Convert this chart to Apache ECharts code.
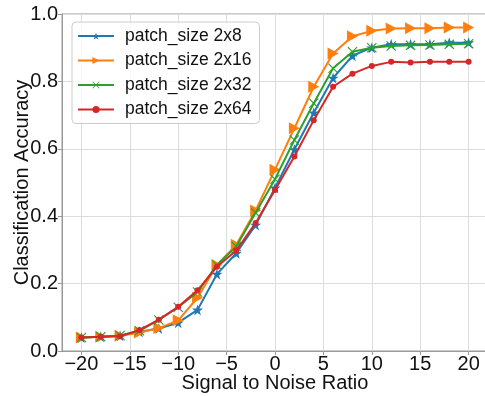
<!DOCTYPE html>
<html><head><meta charset="utf-8">
<script src="https://cdn.jsdelivr.net/npm/echarts@6/dist/echarts.min.js"></script>
<style>html,body{margin:0;padding:0;background:#fff}#c{width:485px;height:396px}</style>
</head><body><div id="c"></div>
<script>
const snr = [-20,-18,-16,-14,-12,-10,-8,-6,-4,-2,0,2,4,6,8,10,12,14,16,18,20];
const xTicks = [-20,-15,-10,-5,0,5,10,15,20];
const yTicks = [0,0.2,0.4,0.6,0.8,1.0];
const names = ['patch_size 2x8','patch_size 2x16','patch_size 2x32','patch_size 2x64'];
const acc2x8  = [0.040,0.042,0.045,0.057,0.067,0.084,0.122,0.228,0.290,0.374,0.484,0.598,0.707,0.810,0.876,0.900,0.910,0.910,0.910,0.915,0.915];
const acc2x16 = [0.040,0.042,0.045,0.055,0.068,0.091,0.158,0.255,0.315,0.417,0.538,0.661,0.784,0.883,0.934,0.950,0.957,0.958,0.958,0.960,0.960];
const acc2x32 = [0.040,0.042,0.046,0.060,0.092,0.130,0.175,0.255,0.310,0.410,0.510,0.626,0.735,0.839,0.888,0.900,0.905,0.907,0.908,0.910,0.912];
const acc2x64 = [0.040,0.042,0.044,0.062,0.093,0.131,0.180,0.250,0.298,0.380,0.478,0.577,0.685,0.784,0.823,0.846,0.858,0.856,0.858,0.858,0.858];

const colors = ['#1f77b4','#ff7f0e','#2ca02c','#d62728'];
const star = 'path://M50,0L61.8,35.1L98.6,35.1L68.8,56.8L80.2,91.9L50,70.2L19.8,91.9L31.2,56.8L1.4,35.1L38.2,35.1Z';
const cross = 'path://M0,8L8,0L50,42L92,0L100,8L58,50L100,92L92,100L50,58L8,100L0,92L42,50Z';
const tri = 'path://M0,0L100,50L0,100Z';
const pairs = a => snr.map((x,i)=>[x,a[i]]);
const series = [
  {name:names[0], data:pairs(acc2x8), symbol:star, symbolSize:11},
  {name:names[1], data:pairs(acc2x16), symbol:tri, symbolSize:[11,12]},
  {name:names[2], data:pairs(acc2x32), symbol:cross, symbolSize:10},
  {name:names[3], data:pairs(acc2x64), symbol:'circle', symbolSize:6}
].map((s,i)=>Object.assign({type:'line', color:colors[i], showSymbol:true, lineStyle:{width:2, color:colors[i]}, itemStyle:{color:colors[i]}, animation:false, z:2+i}, s));

const chart = echarts.init(document.getElementById('c'), null, {renderer:'canvas'});
const font = 'Liberation Sans, Arial, sans-serif';
chart.setOption({
  animation:false,
  color:colors,
  grid:{left:62, top:14, width:426, height:337, show:true, borderColor:'#999', borderWidth:1, containLabel:false, outerBoundsMode:'none'},
  legend:{
    left:72, top:22, orient:'vertical', itemWidth:36, itemHeight:9, itemGap:6.5,
    backgroundColor:'rgba(255,255,255,0.8)', borderColor:'#ccc', borderWidth:1, borderRadius:4,
    padding:[5,8,5,5],
    textStyle:{fontSize:17.5, lineHeight:18, fontFamily:font, color:'#111', padding:[0,0,0,6]},
    data:names
  },
  xAxis:{
    type:'value', min:-22, max:22,
    name:'Signal to Noise Ratio', nameLocation:'middle', nameGap:22, nameMoveOverlap:false,
    nameTextStyle:{fontSize:20, fontFamily:font, color:'#111'},
    axisLine:{show:true, onZero:false, lineStyle:{color:'#999', width:1}},
    axisTick:{show:true, length:4, customValues:xTicks, lineStyle:{color:'#999'}},
    axisLabel:{customValues:xTicks, fontSize:20, fontFamily:font, color:'#111', margin:3,
      formatter:v=>String(v).replace('-','\u2212')},
    splitLine:{show:true, lineStyle:{color:'#dcdcdc', width:1}}
  },
  yAxis:{
    type:'value', min:0, max:1, interval:0.2,
    name:'Classification Accuracy', nameLocation:'middle', nameGap:30, nameMoveOverlap:false,
    nameTextStyle:{fontSize:20, fontFamily:font, color:'#111'},
    axisLine:{show:true, onZero:false, lineStyle:{color:'#999', width:1}},
    axisTick:{show:true, length:4, lineStyle:{color:'#999'}},
    axisLabel:{fontSize:20, fontFamily:font, color:'#111', margin:4, formatter:v=>v.toFixed(1)},
    splitLine:{show:true, lineStyle:{color:'#dcdcdc', width:1}}
  },
  series:series
});
</script></body></html>
